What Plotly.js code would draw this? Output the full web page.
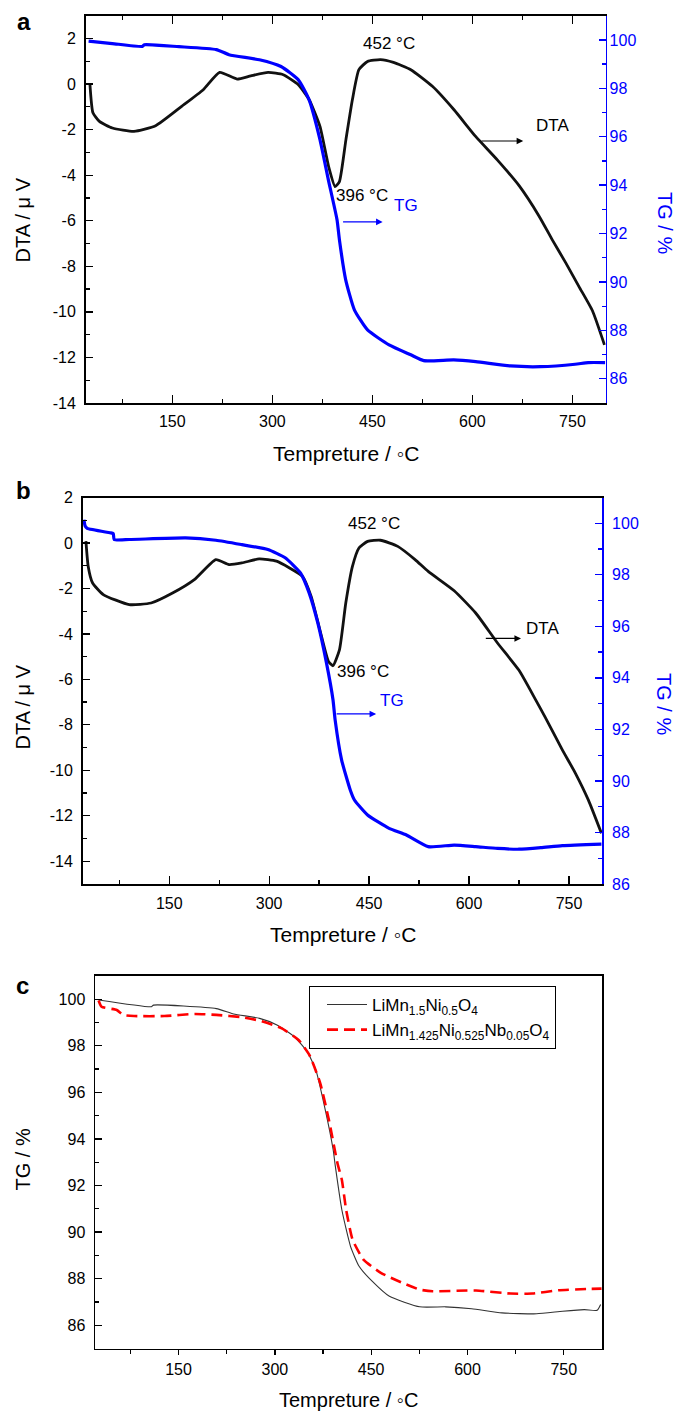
<!DOCTYPE html>
<html>
<head>
<meta charset="utf-8">
<script src="https://cdn.plot.ly/plotly-3.0.1.min.js"></script>
<style>html,body{margin:0;padding:0;background:#fff;}#chart{width:678px;height:1413px;}</style>
</head>
<body>
<div id="chart"></div>
<script>
// ---------- Data ----------
// Panel a: DTA (µV) and TG (%) vs temperature (°C)
const dtaA_T = [26.5, 31, 40.7, 60.2, 92.6, 125, 164, 196.4, 221, 247, 267.7, 293.6, 316.3, 339, 355.2, 371.4, 384.4, 394.1, 400.6, 410.3, 420, 429.8, 442.7, 462.2, 481.6, 507.6, 540, 572.4, 604.8, 637.3, 669.7, 700, 720, 740, 760, 780, 798];
const dtaA   = [0.0, -1.26, -1.64, -1.93, -2.08, -1.83, -0.98, -0.25, 0.51, 0.22, 0.36, 0.51, 0.41, -0.03, -0.69, -1.86, -3.62, -4.5, -4.28, -2.45, -0.69, 0.63, 0.99, 1.07, 0.95, 0.63, -0.1, -1.13, -2.3, -3.33, -4.45, -5.8, -6.85, -7.85, -8.9, -9.95, -11.45];
const tgA_T = [24.5, 60, 105, 108, 160, 216, 235, 280.6, 313, 339, 355, 371.5, 384, 397, 400.6, 410, 423, 442.7, 475, 507.6, 527, 572, 605, 657, 702, 754, 773.6, 799];
const tgA   = [99.95, 99.85, 99.73, 99.8, 99.72, 99.6, 99.39, 99.18, 98.9, 98.35, 97.53, 95.87, 94.22, 92.57, 91.74, 90.09, 88.85, 88.02, 87.4, 86.99, 86.75, 86.78, 86.71, 86.53, 86.5, 86.6, 86.67, 86.67];

// Panel b
const dtaB_T = [25, 28.4, 35, 51, 90, 122.8, 155, 187.7, 220, 239.7, 259, 285, 311, 330.6, 350, 363, 376, 389, 395.7, 405.5, 415, 425, 434.8, 447.7, 467, 493, 519, 538.7, 577.7, 610, 642.7, 675, 700, 714, 740, 759.7, 779, 798.7];
const dtaB   = [0.08, -1.03, -1.76, -2.27, -2.71, -2.64, -2.2, -1.61, -0.73, -0.95, -0.88, -0.7, -0.8, -1.1, -1.47, -2.35, -3.81, -5.21, -5.4, -4.7, -2.64, -1.03, -0.22, 0.07, 0.12, -0.15, -0.73, -1.25, -2.1, -3.08, -4.4, -5.6, -6.9, -7.65, -9.1, -10.13, -11.3, -12.77];
const tgB_T = [22, 24, 27, 61, 66, 67.4, 90, 174.6, 220, 259, 298, 324, 347, 360, 373, 386, 395.8, 399, 408.7, 421.7, 428, 447.7, 480, 506, 538.7, 577.7, 610, 642.7, 675, 707.8, 740, 798.7];
const tgB   = [100.14, 99.88, 99.8, 99.63, 99.6, 99.37, 99.37, 99.43, 99.34, 99.17, 98.98, 98.66, 98.07, 97.3, 96.13, 94.58, 93.15, 92.37, 90.82, 89.65, 89.26, 88.68, 88.16, 87.9, 87.45, 87.51, 87.45, 87.38, 87.35, 87.41, 87.49, 87.55];

// Panel c: TG comparison
const tgC1_T = [25.4, 107.6, 111, 208.8, 235.7, 276.2, 303.2, 330.1, 350.3, 363.8, 377.3, 390.8, 394.2, 404.3, 417.8, 431.2, 451.5, 478.4, 525.6, 566, 606.5, 653.7, 707.7, 748.1, 781.8, 802, 807.4];
const tgC1   = [99.97, 99.68, 99.75, 99.6, 99.37, 99.18, 98.9, 98.4, 97.75, 96.97, 95.4, 93.54, 92.82, 90.96, 89.39, 88.53, 87.89, 87.24, 86.79, 86.79, 86.71, 86.53, 86.49, 86.6, 86.67, 86.64, 86.89];
const tgC2_T = [25.4, 30.1, 53.7, 63.8, 80.7, 127.9, 175.1, 208.8, 249.2, 276.2, 309.9, 336.9, 353.7, 370.6, 384.1, 397.5, 404.3, 411, 421.1, 438, 465, 498.7, 525.6, 545.9, 613.3, 667.2, 700.9, 741.4, 788.6, 808.8];
const tgC2   = [99.95, 99.68, 99.54, 99.33, 99.28, 99.28, 99.37, 99.33, 99.23, 99.08, 98.76, 98.25, 97.61, 96.4, 94.82, 92.96, 92.25, 90.96, 89.67, 88.82, 88.25, 87.82, 87.53, 87.46, 87.49, 87.36, 87.36, 87.5, 87.56, 87.57];

const seriesNames = ['LiMn<sub>1.5</sub>Ni<sub>0.5</sub>O<sub>4</sub>', 'LiMn<sub>1.425</sub>Ni<sub>0.525</sub>Nb<sub>0.05</sub>O<sub>4</sub>'];

// Tick labels
const xTickVals = [150, 300, 450, 600, 750];
const xTickText = ['150', '300', '450', '600', '750'];
const dtaTickVals = [2, 0, -2, -4, -6, -8, -10, -12, -14];
const dtaTickText = ['2', '0', '-2', '-4', '-6', '-8', '-10', '-12', '-14'];
const tgTickVals = [86, 88, 90, 92, 94, 96, 98, 100];
const tgTickText = ['86', '88', '90', '92', '94', '96', '98', '100'];

// ---------- Figure ----------
const W = 678, H = 1413;
const px = v => v / W;          // horizontal pixel -> paper
const py = v => 1 - v / H;      // vertical pixel -> paper
const FONT = 'Liberation Sans, Arial, Helvetica, sans-serif';
const BLUE = '#0000ff';

const traces = [
  {x: dtaA_T, y: dtaA, xaxis: 'x', yaxis: 'y', mode: 'lines', line: {color: '#111', width: 2.8, shape: 'spline', smoothing: 0.5}, showlegend: false, name: 'DTA'},
  {x: tgA_T, y: tgA, xaxis: 'x', yaxis: 'y2', mode: 'lines', line: {color: BLUE, width: 3.2, shape: 'spline', smoothing: 0.5}, showlegend: false, name: 'TG'},
  {x: dtaB_T, y: dtaB, xaxis: 'x2', yaxis: 'y3', mode: 'lines', line: {color: '#111', width: 2.8, shape: 'spline', smoothing: 0.5}, showlegend: false, name: 'DTA'},
  {x: tgB_T, y: tgB, xaxis: 'x2', yaxis: 'y4', mode: 'lines', line: {color: BLUE, width: 3.2, shape: 'spline', smoothing: 0.5}, showlegend: false, name: 'TG'},
  {x: tgC1_T, y: tgC1, xaxis: 'x3', yaxis: 'y5', mode: 'lines', line: {color: '#333', width: 1.1, shape: 'spline', smoothing: 0.5}, name: seriesNames[0]},
  {x: tgC2_T, y: tgC2, xaxis: 'x3', yaxis: 'y5', mode: 'lines', line: {color: '#ff0000', width: 2.6, dash: '11px,6px', shape: 'spline', smoothing: 0.5}, name: seriesNames[1]}
];

function xAx(dom, anchor, range, ticksDir, mirror, standoff) {
  return {
    domain: dom, anchor: anchor, range: range,
    tickmode: 'array', tickvals: xTickVals, ticktext: xTickText,
    ticks: ticksDir, ticklen: ticksDir === 'inside' ? 8 : 5, tickwidth: 1.3, tickcolor: '#000',
    minor: {tickmode: 'linear', tick0: 75, dtick: 150, ticks: ticksDir, ticklen: 4, tickwidth: 1.3, tickcolor: '#000'},
    showline: true, linecolor: '#000', linewidth: 1.6, mirror: mirror,
    showgrid: false, zeroline: false,
    tickfont: {family: FONT, size: 16, color: '#000'},
    ticklabelstandoff: standoff
  };
}
function yAx(dom, anchor, range, vals, text, color, side, overlay, standoff, mirror) {
  const a = {
    domain: dom, anchor: anchor, range: range, side: side,
    tickmode: 'array', tickvals: vals, ticktext: text,
    ticks: 'inside', ticklen: 7, tickwidth: 1.3, tickcolor: color,
    minor: {tickmode: 'linear', tick0: 1, dtick: 2, ticks: 'inside', ticklen: 4, tickwidth: 1.3, tickcolor: color},
    showline: true, linecolor: color, linewidth: 1.6, mirror: mirror,
    showgrid: false, zeroline: false,
    tickfont: {family: FONT, size: 16, color: color},
    ticklabelstandoff: standoff
  };
  if (overlay) a.overlaying = overlay;
  return a;
}

const domAx = [px(85.6), px(605.8)], domAy = [py(403), py(15.7)];
const domBx = [px(82.6), px(602.3)], domBy = [py(884), py(497.5)];
const domCx = [px(95.1), px(602.3)], domCy = [py(1348.5), py(976)];

function txt(text, x, y, opts) {
  return Object.assign({text: text, x: x, y: y, showarrow: false, xanchor: 'center', yanchor: 'middle',
                        font: {family: FONT, size: 16, color: '#000'}}, opts || {});
}
function arrow(xr, yr, x0, x1, y, color) {
  return {x: x1, y: y, ax: x0, ay: y, xref: xr, yref: yr, axref: xr, ayref: yr, text: '', showarrow: true,
          arrowhead: 2, arrowsize: 1.1, arrowwidth: 1.2, arrowcolor: color};
}
const paperTxt = (text, x, y, size, color, angle) =>
  txt(text, px(x), py(y), {xref: 'paper', yref: 'paper', textangle: angle || 0, font: {family: FONT, size: size, color: color}});

const annotations = [
  // panel letters
  paperTxt('<b>a</b>', 23.7, 21.7, 24, '#000'),
  paperTxt('<b>b</b>', 23.7, 490, 24, '#000'),
  paperTxt('<b>c</b>', 22.7, 985, 24, '#000'),
  // axis titles
  paperTxt('Tempreture / ◦C', 345.7, 453.4, 21, '#000'),
  paperTxt('Tempreture / ◦C', 342.5, 934.4, 21, '#000'),
  paperTxt('Tempreture / ◦C', 348.7, 1400.4, 20, '#000'),
  paperTxt('DTA / μ V', 22.5, 220, 20, '#000', -90),
  paperTxt('DTA / μ V', 22.5, 707, 20, '#000', -90),
  paperTxt('TG / %', 22.5, 1160, 20, '#000', -90),
  paperTxt('TG / %', 665, 223, 20, BLUE, 90),
  paperTxt('TG / %', 664, 704, 20, BLUE, 90),
  // panel a labels
  txt('452 °C', 475, 1.79, {xref: 'x', yref: 'y', font: {family: FONT, size: 17, color: '#000'}}),
  txt('396 °C', 435, -4.89, {xref: 'x', yref: 'y', font: {family: FONT, size: 17, color: '#000'}}),
  txt('TG', 501, -5.33, {xref: 'x', yref: 'y', font: {family: FONT, size: 17, color: BLUE}}),
  txt('DTA', 719.6, -1.81, {xref: 'x', yref: 'y', font: {family: FONT, size: 17, color: '#000'}}),
  arrow('x', 'y', 403.8, 465.4, -6.05, BLUE),
  arrow('x', 'y', 611.3, 676.2, -2.5, '#000'),
  // panel b labels
  txt('452 °C', 457.4, 0.86, {xref: 'x2', yref: 'y3', font: {family: FONT, size: 17, color: '#000'}}),
  txt('396 °C', 441, -5.66, {xref: 'x2', yref: 'y3', font: {family: FONT, size: 17, color: '#000'}}),
  txt('TG', 484.6, -6.91, {xref: 'x2', yref: 'y3', font: {family: FONT, size: 17, color: BLUE}}),
  txt('DTA', 710.5, -3.75, {xref: 'x2', yref: 'y3', font: {family: FONT, size: 17, color: '#000'}}),
  arrow('x2', 'y3', 399, 460.6, -7.52, BLUE),
  arrow('x2', 'y3', 622.9, 678, -4.2, '#000')
];

const layout = {
  width: W, height: H,
  margin: {l: 0, r: 0, t: 0, b: 0, pad: 0},
  paper_bgcolor: '#fff', plot_bgcolor: '#fff',
  font: {family: FONT, size: 16, color: '#000'},
  showlegend: true,
  legend: {x: px(309), y: py(986), xanchor: 'left', yanchor: 'top', bgcolor: '#fff', bordercolor: '#000', borderwidth: 1,
           font: {family: FONT, size: 17, color: '#000'}, tracegroupgap: 0, indentation: 12, itemwidth: 40},
  xaxis: xAx(domAx, 'y', [20, 800], 'inside', 'ticks', 3),
  yaxis: yAx(domAy, 'x', [-14, 3], dtaTickVals, dtaTickText, '#000', 'left', null, 5, false),
  yaxis2: yAx(domAy, 'x', [85, 101], tgTickVals, tgTickText, BLUE, 'right', 'y', -1, false),
  xaxis2: xAx(domBx, 'y3', [20, 800], 'inside', true, 4),
  yaxis3: yAx(domBy, 'x2', [-15, 2], dtaTickVals, dtaTickText, '#000', 'left', null, 5, false),
  yaxis4: yAx(domBy, 'x2', [86, 101], tgTickVals, tgTickText, BLUE, 'right', 'y3', 5, false),
  xaxis3: xAx(domCx, 'y5', [20, 810], 'outside', true, 1),
  yaxis5: yAx(domCy, 'x3', [85, 101], tgTickVals, tgTickText, '#000', 'left', null, 5, true),
  annotations: annotations
};

Plotly.newPlot('chart', traces, layout, {staticPlot: true, displayModeBar: false});
</script>
</body>
</html>
